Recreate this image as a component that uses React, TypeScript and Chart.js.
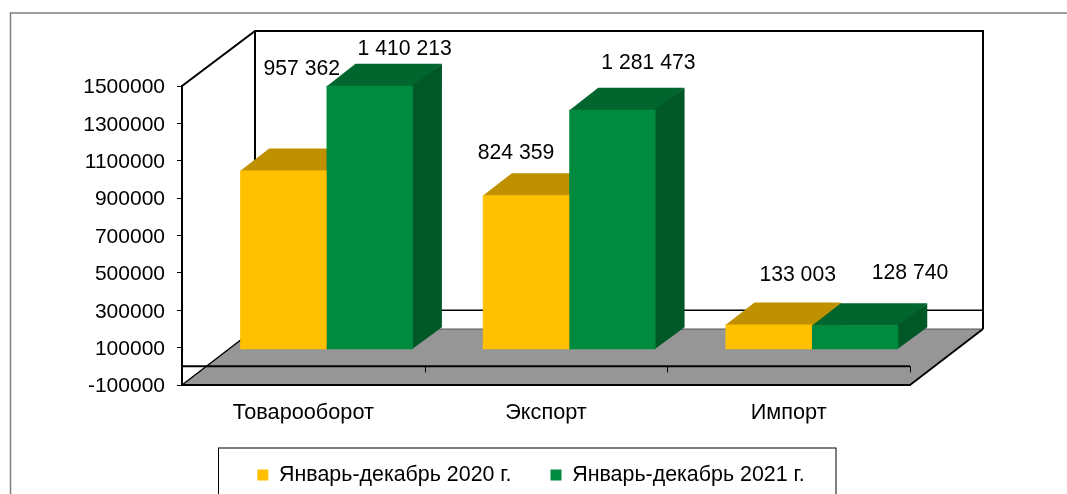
import React, { useEffect, useRef } from "react";
import { Chart, registerables } from "chart.js";

Chart.register(...registerables);

const categories = ["Товарооборот", "Экспорт", "Импорт"];
const series2020 = [957362, 824359, 133003];
const series2021 = [1410213, 1281473, 128740];
const seriesNames = ["Январь-декабрь 2020 г.", "Январь-декабрь 2021 г."];

const FONT = "'Liberation Sans', Arial, sans-serif";
const FONT_TICK = 21;
const FONT_CAT = 21.7;
const FONT_LEGEND = 21.4;
const FONT_DATA = 21.2;
const WALL_DX = 73;
const WALL_DY = 56;
const BAR_SHIFT_X = 23.2;
const BAR_SHIFT_Y = 17;
const BAR_DEPTH_X = 29;
const BAR_DEPTH_Y = 22;

const faces = [
  { front: "#FFC000", top: "#BF9000", side: "#BF9000" },
  { front: "#008A3F", top: "#00662E", side: "#005827" },
];
// manual data-label placement relative to the top centre of each bar's front face
const labelOffsets = [
  [[18.5, -101], [-10, -42], [29, -49]],
  [[35, -37], [36, -47], [55, -52]],
];

const spaced = (v: number) => String(v).replace(/\B(?=(\d{3})+$)/g, " ");

const poly = (ctx: CanvasRenderingContext2D, pts: number[][], fill?: string) => {
  ctx.beginPath();
  pts.forEach((p, i) => (i ? ctx.lineTo(p[0], p[1]) : ctx.moveTo(p[0], p[1])));
  ctx.closePath();
  if (fill) {
    ctx.fillStyle = fill;
    ctx.fill();
  }
};
const line = (ctx: CanvasRenderingContext2D, pts: number[][], w: number, c = "#000") => {
  ctx.beginPath();
  pts.forEach((p, i) => (i ? ctx.lineTo(p[0], p[1]) : ctx.moveTo(p[0], p[1])));
  ctx.lineWidth = w;
  ctx.strokeStyle = c;
  ctx.stroke();
};

const scene3d = {
  id: "scene3d",
  afterLayout(chart: any) {
    const lg = chart.legend;
    const pad = lg.options.labels.padding;
    const w = lg.right - lg.left;
    const h = lg.bottom - lg.top;
    lg.left = 531 - w / 2;
    lg.right = lg.left + w;
    lg.top = 475 - pad - FONT_LEGEND / 2;
    lg.bottom = lg.top + h;
  },
  beforeDraw(chart: any) {
    const { ctx } = chart;
    const x = chart.scales.x;
    const y = chart.scales.y;
    const L = x.left, R = x.right, B = y.bottom, T = y.top;
    const zero = y.getPixelForValue(0);
    y.getLabelItems().forEach((it: any) => {
      it.textOffset = 1.5;
    });
    ctx.save();
    ctx.fillStyle = "#fff";
    ctx.fillRect(0, 0, chart.width, chart.height);
    // outer frame
    line(ctx, [[10.5, chart.height], [10.5, 13], [chart.width, 13]], 1.5, "#7f7f7f");
    // legend frame
    ctx.lineWidth = 1;
    ctx.strokeStyle = "#000";
    ctx.strokeRect(218.5, 448, 617.5, 60);
    // floor
    const fl = [[L, B], [R, B], [R + WALL_DX, B - WALL_DY], [L + WALL_DX, B - WALL_DY]];
    poly(ctx, fl, "#969696");
    line(ctx, [fl[3], fl[2]], 1, "#555");
    line(ctx, [fl[0], fl[3]], 1.5);
    line(ctx, [fl[1], fl[2]], 1.8);
    // walls
    line(ctx, [[L, T], [L + WALL_DX, T - WALL_DY + 1], [R + WALL_DX, T - WALL_DY + 1], [R + WALL_DX, B - WALL_DY]], 2);
    line(ctx, [[L + WALL_DX, T - WALL_DY + 1], [L + WALL_DX, B - WALL_DY]], 2);
    // zero plane: back and front
    line(ctx, [[L + WALL_DX, zero - WALL_DY], [R + WALL_DX, zero - WALL_DY]], 1.5);
    line(ctx, [[L, zero], [R, zero]], 2);
    const band = (R - L) / categories.length;
    for (let i = 0; i <= categories.length; i++) {
      const px = Math.round(L + i * band) + 0.5;
      line(ctx, [[px, zero], [px, zero + 6]], 1);
    }
    ctx.restore();
  },
  // top and side faces of every bar, 2020 first so that 2021 overlaps it
  beforeDatasetsDraw(chart: any) {
    const { ctx } = chart;
    ctx.save();
    ctx.translate(BAR_SHIFT_X, -BAR_SHIFT_Y);
    chart.data.datasets.forEach((_: any, d: number) => {
      const f = faces[d];
      chart.getDatasetMeta(d).data.forEach((el: any) => {
        const p = el.getProps(["x", "y", "base", "width"], true);
        const l = p.x - p.width / 2;
        const r = p.x + p.width / 2;
        poly(ctx, [[l, p.y + 0.6], [r, p.y + 0.6], [r + BAR_DEPTH_X, p.y - BAR_DEPTH_Y], [l + BAR_DEPTH_X, p.y - BAR_DEPTH_Y]], f.top);
        poly(ctx, [[r - 1, p.y], [r + BAR_DEPTH_X, p.y - BAR_DEPTH_Y], [r + BAR_DEPTH_X, p.base - BAR_DEPTH_Y], [r - 1, p.base]], f.side);
      });
    });
    ctx.restore();
  },
  beforeDatasetDraw(chart: any) {
    chart.ctx.save();
    chart.ctx.translate(BAR_SHIFT_X, -BAR_SHIFT_Y);
  },
  afterDatasetDraw(chart: any) {
    chart.ctx.restore();
  },
  afterDatasetsDraw(chart: any) {
    const { ctx } = chart;
    ctx.save();
    ctx.font = `${FONT_DATA}px ${FONT}`;
    ctx.fillStyle = "#000";
    ctx.textAlign = "center";
    ctx.textBaseline = "middle";
    chart.data.datasets.forEach((ds: any, d: number) => {
      chart.getDatasetMeta(d).data.forEach((el: any, i: number) => {
        const o = labelOffsets[d][i];
        ctx.fillText(spaced(ds.data[i]), el.x + BAR_SHIFT_X + o[0], el.y - BAR_SHIFT_Y + o[1]);
      });
    });
    ctx.restore();
  },
};

export default function App() {
  const ref = useRef<HTMLCanvasElement>(null);
  useEffect(() => {
    const chart = new Chart(ref.current as HTMLCanvasElement, {
      type: "bar",
      data: {
        labels: categories,
        datasets: [
          { label: seriesNames[0], data: series2020, backgroundColor: faces[0].front, clip: false },
          { label: seriesNames[1], data: series2021, backgroundColor: faces[1].front, clip: false },
        ],
      } as any,
      plugins: [scene3d as any],
      options: {
        animation: false,
        responsive: false,
        devicePixelRatio: 1,
        layout: { padding: { top: 86, right: 157, left: 0, bottom: 0 } },
        datasets: { bar: { categoryPercentage: 0.712, barPercentage: 1, borderWidth: 0 } },
        plugins: {
          tooltip: { enabled: false },
          title: { display: false },
          legend: {
            position: "bottom",
            labels: {
              boxWidth: 11,
              boxHeight: 11,
              padding: 39,
              color: "#000",
              font: { family: FONT, size: FONT_LEGEND },
            },
          },
        },
        scales: {
          x: {
            grid: { display: false, drawTicks: false },
            border: { display: true, color: "#000", width: 2 },
            ticks: { color: "#000", padding: 15, maxRotation: 0, font: { family: FONT, size: FONT_CAT } },
            afterFit(s: any) {
              s.height = 109 - (s.chart.legend?.height ?? 0);
            },
          },
          y: {
            min: -100000,
            max: 1500000,
            grid: { drawOnChartArea: false, drawTicks: true, tickLength: 5, color: "#000", lineWidth: 1 },
            border: { display: true, color: "#000", width: 2 },
            ticks: {
              stepSize: 200000,
              color: "#000",
              padding: 12,
              font: { family: FONT, size: FONT_TICK },
              callback: (v: any) => String(v),
            },
            afterFit(s: any) {
              s.width = 182;
            },
          },
        },
      },
    } as any);
    return () => chart.destroy();
  }, []);
  return (
    <canvas
      ref={ref}
      width={1067}
      height={494}
      style={{ position: "absolute", left: 0, top: 0, display: "block" }}
    />
  );
}
